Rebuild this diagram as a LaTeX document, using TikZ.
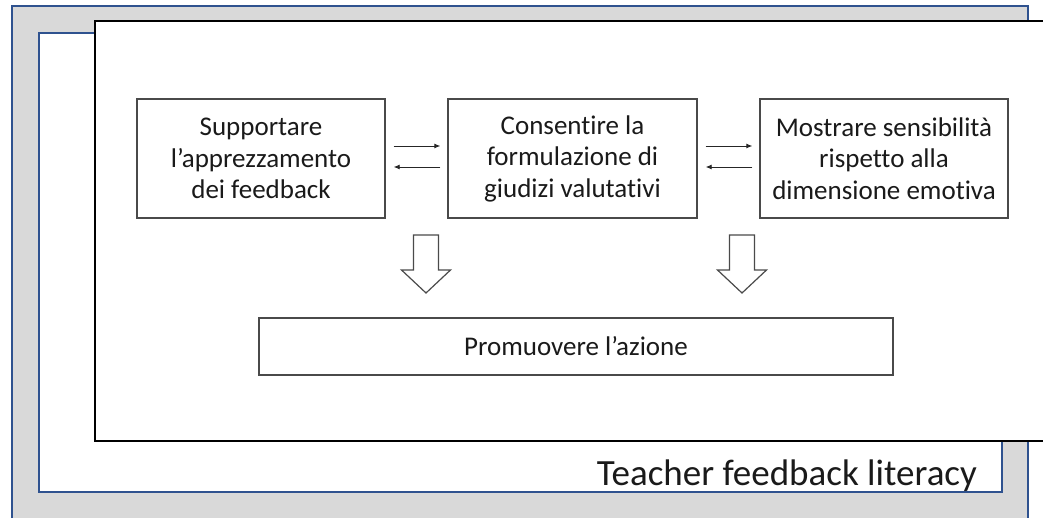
\documentclass[tikz,border=0pt]{standalone}
\usepackage{fontspec}
\setmainfont[Ligatures={NoCommon}]{Carlito}
\definecolor{frameblue}{HTML}{2F528F}
\definecolor{panelgray}{HTML}{D9D9D9}
\definecolor{boxline}{HTML}{4A4A4A}
\definecolor{txt}{HTML}{1A1A1A}
\tikzset{
  stepbox/.style={draw=boxline, line width=1.4pt, fill=white, align=center, text=txt,
    font=\fontsize{27}{31.5}\selectfont, inner sep=0pt},
  smallarrow/.style={draw=black!85, line width=0.9pt, -{Latex[length=6pt,width=5pt]}},
  hollowarrow/.style={draw=boxline, line width=1.2pt, fill=white, line join=miter},
}
\usetikzlibrary{arrows.meta}
\begin{document}
\begin{tikzpicture}[x=1pt,y=-1pt]
\useasboundingbox (0,0) rectangle (1043,518);
\clip (0,0) rectangle (1043,518);
\fill[white] (0,0) rectangle (1043,518);
% outer gray panel
\draw[frameblue, line width=2pt, fill=panelgray] (12,6) rectangle (1028,540);
% inner white panel
\draw[frameblue, line width=2pt, fill=white] (39,33) rectangle (1002,492);
% label
\node[anchor=base east, text=txt, font=\fontsize{37}{44}\selectfont, inner sep=0pt] (title) at (977,485) {Teacher feedback literacy};
% black frame
\draw[black, line width=2pt, fill=white] (95,21) rectangle (1070,441);
% boxes
\node[stepbox, minimum width=248pt, minimum height=119pt] (b1) at (261,158.5) {Supportare\\l’apprezzamento\\dei feedback};
\node[stepbox, minimum width=249pt, minimum height=119pt] (b2) at (572.5,158.5) {Consentire la\\formulazione di\\giudizi valutativi};
\node[stepbox, minimum width=248pt, minimum height=119pt] (b3) at (884,158.5) {Mostrare sensibilità\\rispetto alla\\dimensione emotiva};
\node[stepbox, minimum width=634pt, minimum height=57pt] (b4) at (576,346.5) {Promuovere l’azione};
% small arrows between boxes
\draw[smallarrow] ([yshift=12.5pt,xshift=8pt]b1.east) -- ([yshift=12.5pt,xshift=-7pt]b2.west);
\draw[smallarrow] ([yshift=-8.5pt,xshift=-7pt]b2.west) -- ([yshift=-8.5pt,xshift=8pt]b1.east);
\draw[smallarrow] ([yshift=12.5pt,xshift=8pt]b2.east) -- ([yshift=12.5pt,xshift=-7pt]b3.west);
\draw[smallarrow] ([yshift=-8.5pt,xshift=-7pt]b3.west) -- ([yshift=-8.5pt,xshift=8pt]b2.east);
% hollow down arrows
\coordinate (a1) at (426,235);
\coordinate (a2) at (742,235);
\foreach \c in {a1,a2}{
  \draw[hollowarrow] (\c) ++(-12.5,0) -- ++(25,0) -- ++(0,35) -- ++(12,0) -- ++(-24.5,23) -- ++(-24.5,-23) -- ++(12,0) -- cycle;
}
\end{tikzpicture}
\end{document}
